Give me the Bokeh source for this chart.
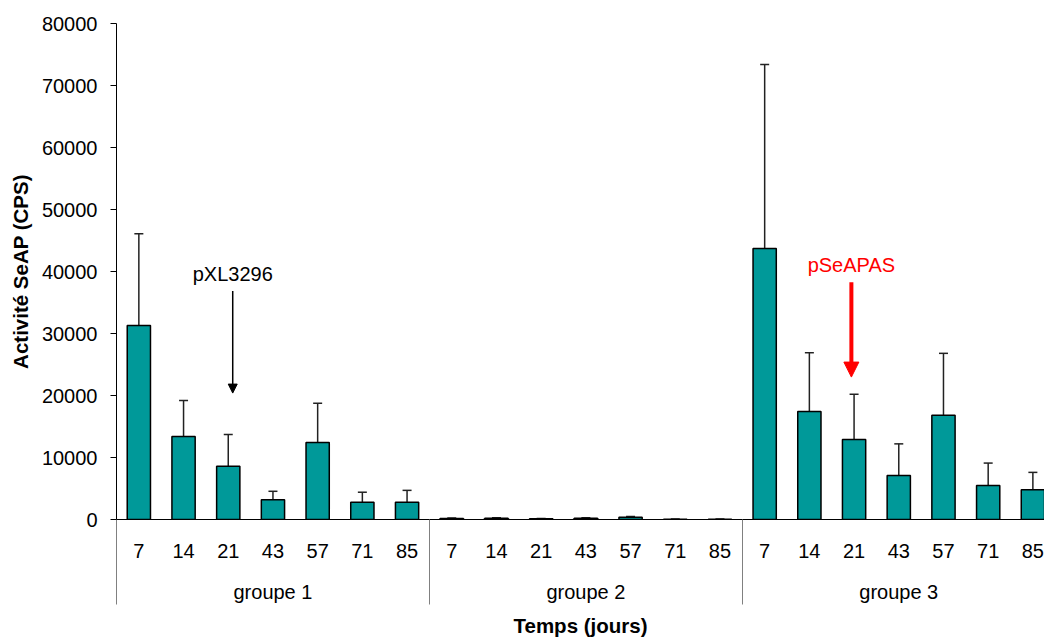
from bokeh.plotting import figure
from bokeh.models import (Range1d, FixedTicker, LinearAxis, Whisker, TeeHead, Arrow,
                          NormalHead, Label, ColumnDataSource, BasicTickFormatter)
from bokeh.embed import file_html
from bokeh.resources import INLINE

# ---- data ----
groups = ["groupe 1", "groupe 2", "groupe 3"]
days = ["7", "14", "21", "43", "57", "71", "85"]
mean_g1 = [31300, 13400, 8600, 3200, 12400, 2800, 2800]
err_g1 = [14800, 5800, 5100, 1350, 6350, 1600, 1900]
mean_g2 = [180, 220, 120, 200, 380, 60, 60]
err_g2 = [60, 80, 50, 90, 120, 30, 30]
mean_g3 = [43700, 17400, 12900, 7100, 16800, 5500, 4800]
err_g3 = [29700, 9500, 7300, 5100, 10000, 3600, 2800]
y_ticks = [0, 10000, 20000, 30000, 40000, 50000, 60000, 70000, 80000]

# annotations: (label, group index, x offset in category units, label y, arrow start y, arrow end y)
ann_black = ("pXL3296", 0, 2.6, 39600, 36860, 20390)
ann_red = ("pSeAPAS", 2, 2.44, 41050, 38260, 22970)

FONT = "Liberation Sans"
TEAL = "#009999"

means = mean_g1 + mean_g2 + mean_g3
errs = err_g1 + err_g2 + err_g3
n = len(days)
xs = [gi * n + di + 0.5 for gi in range(len(groups)) for di in range(n)]
labels = [d for _ in groups for d in days]
src = ColumnDataSource(dict(x=xs, top=means, upper=[m + e for m, e in zip(means, errs)], lab=labels))

p = figure(width=1044, height=639, output_backend="svg", toolbar_location=None,
           x_range=Range1d(0, 20.76), y_range=Range1d(0, 80000),
           x_axis_location=None, min_border_left=116, min_border_top=23,
           min_border_right=0, min_border_bottom=119)
p.outline_line_color = None
p.background_fill_color = "white"
p.border_fill_color = "white"
p.xgrid.visible = False
p.ygrid.ticker = FixedTicker(ticks=[y_ticks[-1]])
p.ygrid.grid_line_color = "black"
p.ygrid.grid_line_width = 1

# y axis
ya = p.yaxis[0]
ya.ticker = FixedTicker(ticks=y_ticks)
ya.formatter = BasicTickFormatter(use_scientific=False)
ya.major_tick_out = 6
ya.major_tick_in = 0
ya.minor_tick_line_color = None
ya.axis_line_color = "black"
ya.major_tick_line_color = "black"
ya.major_label_text_font = FONT
ya.major_label_text_font_size = "20px"
ya.major_label_text_color = "black"
ya.major_label_standoff = 13
ya.axis_label = "Activité SeAP (CPS)"
ya.axis_label_text_font = FONT
ya.axis_label_text_font_size = "20.5px"
ya.axis_label_text_font_style = "bold"
ya.axis_label_text_color = "black"
ya.axis_label_standoff = 7

# x axis: day labels + group separators (minor ticks)
seps = [gi * n for gi in range(len(groups) + 1)]
xa = LinearAxis(ticker=FixedTicker(ticks=xs, minor_ticks=seps),
                major_label_overrides={x: l for x, l in zip(xs, labels)})
xa.major_tick_line_color = None
xa.major_tick_out = 0
xa.minor_tick_out = 85
xa.minor_tick_in = 0
xa.minor_tick_line_color = "#808080"
xa.axis_line_color = "black"
xa.major_label_text_font = FONT
xa.major_label_text_font_size = "20px"
xa.major_label_text_color = "black"
xa.major_label_standoff = -61
p.add_layout(xa, "below")

centers = [gi * n + n / 2 for gi in range(len(groups))]
ga = LinearAxis(ticker=FixedTicker(ticks=centers, minor_ticks=[]),
                major_label_overrides={c: g for c, g in zip(centers, groups)})
ga.axis_line_color = None
ga.major_tick_line_color = None
ga.minor_tick_line_color = None
ga.major_label_text_font = FONT
ga.major_label_text_font_size = "20px"
ga.major_label_text_color = "black"
ga.major_label_standoff = 14
ga.axis_label = "Temps (jours)"
ga.axis_label_text_font = FONT
ga.axis_label_text_font_size = "20.5px"
ga.axis_label_text_font_style = "bold"
ga.axis_label_text_color = "black"
ga.axis_label_standoff = 8
p.add_layout(ga, "below")

# bars
p.vbar(x="x", top="top", width=0.52, source=src, fill_color=TEAL,
       line_color="black", line_width=1.5)

# error bars (upper only)
w = Whisker(base="x", lower="top", upper="upper", source=src, dimension="height",
            line_color="#222222", line_width=1.5,
            upper_head=TeeHead(size=9, line_color="#222222", line_width=1.5),
            lower_head=None)
p.add_layout(w)

# annotations
for (txt, gi, off, ly, ys, ye), col, lw, hs in [(ann_black, "black", 1.5, 9),
                                                 (ann_red, "#ff0000", 4, 15)]:
    ax = gi * n + off
    p.add_layout(Arrow(x_start=ax, y_start=ys, x_end=ax, y_end=ye,
                       line_color=col, line_width=lw,
                       end=NormalHead(size=hs, fill_color=col, line_color=col, line_width=1)))
    p.add_layout(Label(x=ax, y=ly, text=txt, text_align="center",
                       text_baseline="alphabetic", text_color=col,
                       text_font=FONT, text_font_size="20px"))

open("out.html", "w").write(file_html(p, INLINE))
